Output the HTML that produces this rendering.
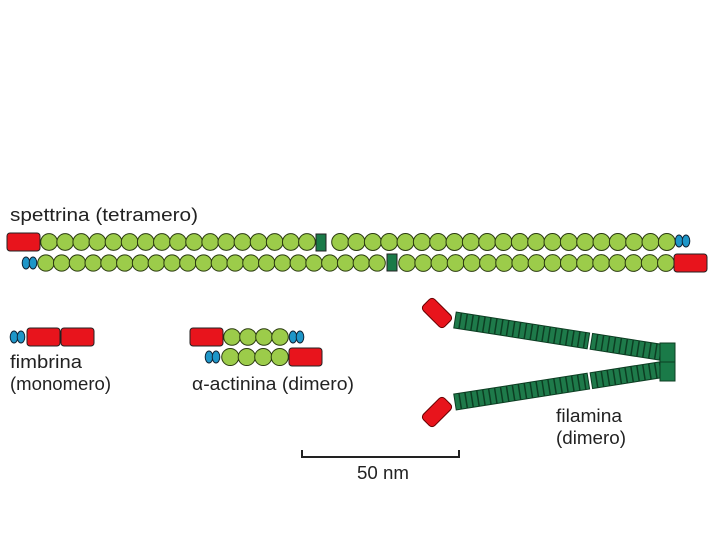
<!DOCTYPE html>
<html><head><style>
html,body{margin:0;padding:0;background:#fff;width:720px;height:540px;overflow:hidden}
text{font-family:"Liberation Sans",sans-serif;fill:#222}
</style></head><body>
<svg id="s" width="720" height="540" xmlns="http://www.w3.org/2000/svg">
<defs>
<pattern id="rib" width="6" height="18" patternUnits="userSpaceOnUse">
<rect width="6" height="18" fill="#1e7a4a"/><rect x="4.5" width="1.5" height="18" fill="#0c3d22"/>
</pattern>
</defs>
<text x="10" y="221" font-size="18" textLength="188" lengthAdjust="spacingAndGlyphs">spettrina (tetramero)</text>
<g id="beads" fill="#9ccc4a" stroke="#2a3a10" stroke-width="1"></g>
<g stroke="#222" stroke-width="1">
<rect x="7" y="233" width="33" height="18" rx="3" fill="#e8141c"/>
<rect x="674" y="254" width="33" height="18" rx="3" fill="#e8141c"/>
<rect x="316" y="234" width="10" height="17" fill="#1a7a48"/>
<rect x="387" y="254" width="10" height="17" fill="#1a7a48"/>
<rect x="27" y="328" width="33" height="18" rx="3" fill="#e8141c"/>
<rect x="61" y="328" width="33" height="18" rx="3" fill="#e8141c"/>
<rect x="190" y="328" width="33" height="18" rx="3" fill="#e8141c"/>
<rect x="289" y="348" width="33" height="18" rx="3" fill="#e8141c"/>
</g>
<g id="ov" fill="#1e96c8" stroke="#123" stroke-width="1"></g>
<text x="10" y="368" font-size="18" textLength="72" lengthAdjust="spacingAndGlyphs">fimbrina</text>
<text x="10" y="390" font-size="18" textLength="101" lengthAdjust="spacingAndGlyphs">(monomero)</text>
<text x="192" y="390" font-size="18" textLength="162" lengthAdjust="spacingAndGlyphs">α-actinina (dimero)</text>
<g transform="translate(455,320) rotate(8.9)">
<rect x="0" y="-8" width="135" height="16" fill="url(#rib)" stroke="#0c3d22"/>
<rect x="138" y="-8" width="70" height="16" fill="url(#rib)" stroke="#0c3d22"/>
</g>
<g transform="translate(455,402) rotate(-8.9)">
<rect x="0" y="-8" width="135" height="16" fill="url(#rib)" stroke="#0c3d22"/>
<rect x="138" y="-8" width="70" height="16" fill="url(#rib)" stroke="#0c3d22"/>
</g>
<rect x="660" y="343" width="15" height="19" fill="#1a7a48" stroke="#0c3d22"/>
<rect x="660" y="362" width="15" height="19" fill="#1a7a48" stroke="#0c3d22"/>
<rect x="-15" y="-8" width="30" height="16" rx="4" fill="#e8141c" stroke="#600" transform="translate(437,313) rotate(45)"/>
<rect x="-15" y="-8" width="30" height="16" rx="4" fill="#e8141c" stroke="#600" transform="translate(437,412) rotate(-45)"/>
<text x="556" y="422" font-size="18" textLength="66" lengthAdjust="spacingAndGlyphs">filamina</text>
<text x="556" y="444" font-size="18" textLength="70" lengthAdjust="spacingAndGlyphs">(dimero)</text>
<path d="M302 450 V457 H459 V450" fill="none" stroke="#222" stroke-width="2"/>
<text x="357" y="479" font-size="18" textLength="52" lengthAdjust="spacingAndGlyphs">50 nm</text>
</svg>
<script>
var ns="http://www.w3.org/2000/svg",b=document.getElementById("beads"),o=document.getElementById("ov");
function row(x0,x1,y){var n=Math.round((x1-x0)/16.1);var d=(x1-x0)/n;for(var i=0;i<n;i++){var c=document.createElementNS(ns,"circle");c.setAttribute("cx",x0+d*(i+0.5));c.setAttribute("cy",y);c.setAttribute("r",d/2+0.3);b.appendChild(c);}}
row(41,315,242);row(332,675,242);row(38,385,263);row(399,674,263);
row(224,288,337);row(222,288,357);
function ov(x,y){for(var k=0;k<2;k++){var e=document.createElementNS(ns,"ellipse");e.setAttribute("cx",x+k*7);e.setAttribute("cy",y);e.setAttribute("rx",3.8);e.setAttribute("ry",6);o.appendChild(e);}}
ov(679,241);ov(26,263);ov(14,337);ov(293,337);ov(209,357);
</script>
</body></html>
